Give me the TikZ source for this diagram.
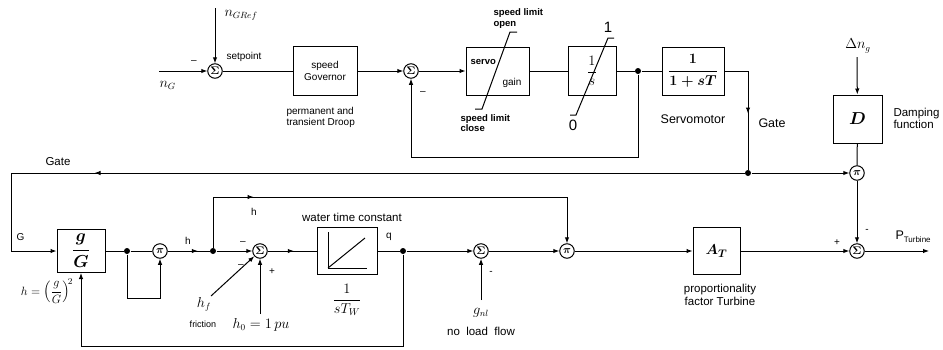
\documentclass[tikz,border=0pt]{standalone}
\usepackage{amsmath}
\usepackage{fontspec}
\setmainfont{Liberation Sans}
\usetikzlibrary{arrows.meta,decorations.markings}
\begin{document}
\begin{tikzpicture}[x=1pt,y=-1pt,line width=1pt,
  >={Latex[length=6pt,width=4.5pt]},
  blk/.style={draw,inner sep=0pt},
  sumn/.style={draw,circle,minimum size=14.5pt,inner sep=0pt,font=\fontsize{11}{11}\selectfont},
  dotn/.style={circle,fill,minimum size=6pt,inner sep=0pt},
  lbl/.style={font=\fontsize{10}{11}\selectfont,align=left,inner sep=0pt},
  mlbl/.style={font=\fontsize{11.5}{12.5}\selectfont,align=left,inner sep=0pt},
  blbl/.style={font=\fontsize{12.5}{13.5}\selectfont,align=left,inner sep=0pt},
  bold/.style={font=\fontsize{9.5}{10.5}\selectfont\bfseries,align=left,inner sep=0pt},
  mathl/.style={font=\fontsize{13.5}{14}\selectfont,inner sep=0pt},
  midarrow/.style={postaction={decorate},decoration={markings,mark=at position #1 with {\arrow{>}}}},
]
\useasboundingbox (0,0) rectangle (943,349);

% ---------- top row ----------
\node[sumn] (sA) at (215,71) {$\boldsymbol\Sigma$};
\node[blk,minimum width=64pt,minimum height=49pt,align=center,font=\fontsize{10}{12}\selectfont] (gov) at (325,71) {speed\\Governor};
\node[sumn] (sB) at (411,71) {$\boldsymbol\Sigma$};
\node[blk,minimum width=63pt,minimum height=48pt] (servo) at (497.5,71) {};
\node[blk,minimum width=48pt,minimum height=49pt,font=\fontsize{15}{15}\selectfont] (integ) at (592,71) {$\dfrac{1}{s}$};
\node[dotn] (j1) at (638,71) {};
\node[blk,minimum width=62pt,minimum height=48pt,font=\fontsize{14}{14}\selectfont] (servom) at (693,71) {$\boldsymbol{\dfrac{1}{1+sT}}$};
\coordinate (gateTop) at (748,71);
\node[dotn] (gj) at (748,173) {};
\node[blk,minimum width=49pt,minimum height=48pt,font=\fontsize{16}{16}\selectfont] (D) at (857.5,119) {$\boldsymbol{D}$};
\node[sumn] (piA) at (857,173) {$\boldsymbol\pi$};
\node[sumn] (sE) at (857,251) {$\boldsymbol\Sigma$};
\coordinate (out) at (929,251);

\coordinate (nref) at (215,8);
\coordinate (nin) at (159,71);
\coordinate (fbB1) at (638,157);
\coordinate (fbB2) at (411,157);
\coordinate (dn) at (857,57);

% ---------- bottom row ----------
\node[blk,minimum width=48pt,minimum height=43pt,font=\fontsize{16}{16}\selectfont] (gG) at (81,251) {$\boldsymbol{\dfrac{g}{G}}$};
\node[dotn] (j2) at (127,251) {};
\node[sumn] (piB) at (160,251) {$\boldsymbol\pi$};
\node[dotn] (j3) at (213,251) {};
\node[sumn] (sC) at (260,251) {$\boldsymbol\Sigma$};
\node[blk,minimum width=60pt,minimum height=47pt] (wtc) at (347,251) {};
\node[dotn] (j4) at (403,251) {};
\node[sumn] (sD) at (481,251) {$\boldsymbol\Sigma$};
\node[sumn] (piC) at (567,251) {$\boldsymbol\pi$};
\node[blk,minimum width=47pt,minimum height=47pt,font=\fontsize{15}{15}\selectfont] (AT) at (716.5,251) {$\boldsymbol{A_T}$};

\coordinate (gl1) at (11,173);
\coordinate (gl2) at (11,251);
\coordinate (hU1) at (213,197);
\coordinate (hU2) at (567,197);
\coordinate (lp1) at (127,298);
\coordinate (lp2) at (160,298);
\coordinate (hf) at (211,296);
\coordinate (h0) at (260,314);
\coordinate (fb1) at (403,346);
\coordinate (fb2) at (81,346);
\coordinate (gnl) at (481,300);

% ---------- connectors ----------
\draw[->] (nref) -- (sA);
\draw[->] (nin) -- (sA);
\draw (sA) -- (gov);
\draw[->] (gov) -- (sB);
\draw[->] (sB) -- (servo);
\draw (servo) -- (integ);
\draw (integ) -- (j1) -- (servom);
\draw[->] (j1) -- (fbB1) -- (fbB2) -- (sB);
\draw[midarrow=66pt] (servom) -- (gateTop) -- (gj);
\draw[->,midarrow=650pt] (gj) -- (gl1) -- (gl2) -- (gG);
\draw[->] (gj) -- (piA);
\draw[->] (dn) -- (D);
\draw (D) -- (piA);
\draw[->] (piA) -- (sE);
\draw[->] (sE) -- (out);

\draw (gG) -- (j2) -- (piB);
\draw[->] (j2) -- (lp1) -- (lp2) -- (piB);
\draw[midarrow=30pt] (piB) -- (j3);
\draw[->,midarrow=91pt] (j3) -- (hU1) -- (hU2) -- (piC);
\draw[->] (j3) -- (sC);
\draw[->] (hf) -- (sC);
\draw[->] (h0) -- (sC);
\draw[midarrow=26pt] (sC) -- (wtc);
\draw (wtc) -- (j4);
\draw[->] (j4) -- (sD);
\draw[->] (j4) -- (fb1) -- (fb2) -- (gG);
\draw[->] (gnl) -- (sD);
\draw[->] (sD) -- (piC);
\draw[->] (piC) -- (AT);
\draw[->] (AT) -- (sE);

% ---------- block internals ----------
\draw (475,109) -- (482,109) -- (510,32) -- (517,32);
\draw (570,115) -- (576,115) -- (608,38) -- (614,38);
\draw (328,232) -- (328,268) -- (367,268);
\draw (328,268) -- (365,238);

% ---------- labels ----------
\node[mathl,anchor=west] at (224,15) {$n_{GRef}$};
\node[mathl,anchor=west] at (159,85) {$n_G$};
\node[lbl] at (194,62) {--};
\node[lbl,anchor=west] at (226,57) {setpoint};
\node[lbl,anchor=west] at (286,117.5) {permanent and\\transient Droop};
\node[lbl] at (423,93) {--};
\node[bold,anchor=west] at (493,18.5) {speed limit\\open};
\node[bold,anchor=west] at (460,123) {speed limit\\close};
\node[bold,anchor=west] at (470,62) {servo};
\node[lbl,anchor=west] at (502,83) {gain};
\node[font=\fontsize{15}{15}\selectfont,inner sep=0pt] at (608,27) {1};
\node[font=\fontsize{15}{15}\selectfont,inner sep=0pt] at (573,125) {0};
\node[blbl] at (693,119) {Servomotor};
\node[blbl,anchor=west] at (758,123) {Gate};
\node[mathl] at (858,46) {$\Delta n_g$};
\node[mlbl,anchor=west] at (893,118.5) {Damping\\function};
\node[mlbl,anchor=west] at (45,162) {Gate};
\node[lbl,anchor=west] at (16,237) {G};
\node[lbl] at (188,241) {h};
\node[lbl] at (254,212) {h};
\node[lbl] at (243,243) {--};
\node[lbl] at (241,266) {--};
\node[lbl] at (272,272) {+};
\node[mathl] at (204,304) {$h_f$};
\node[font=\fontsize{9}{9}\selectfont,inner sep=0pt] at (203,324) {friction};
\node[mathl] at (261,325) {$h_0=1\,pu$};
\node[font=\fontsize{13}{13}\selectfont,inner sep=0pt] at (47,291) {$h=\left(\dfrac{g}{G}\right)^{\!2}$};
\node[mlbl] at (352,217) {water time constant};
\node[lbl] at (389,237) {q};
\node[font=\fontsize{14}{14}\selectfont,inner sep=0pt] at (347,300) {$\dfrac{1}{sT_W}$};
\node[lbl] at (491,273) {-};
\node[mathl] at (481,313) {$g_{nl}$};
\node[mlbl] at (481,331) {no\ \ load\ \ flow};
\node[lbl] at (837,243) {+};
\node[lbl] at (867,231) {-};
\node[mlbl,align=center] at (720,295) {proportionality\\factor Turbine};
\node[blbl,anchor=west] at (895,237) {P\raisebox{-3pt}{\fontsize{8}{8}\selectfont Turbine}};
\end{tikzpicture}
\end{document}
